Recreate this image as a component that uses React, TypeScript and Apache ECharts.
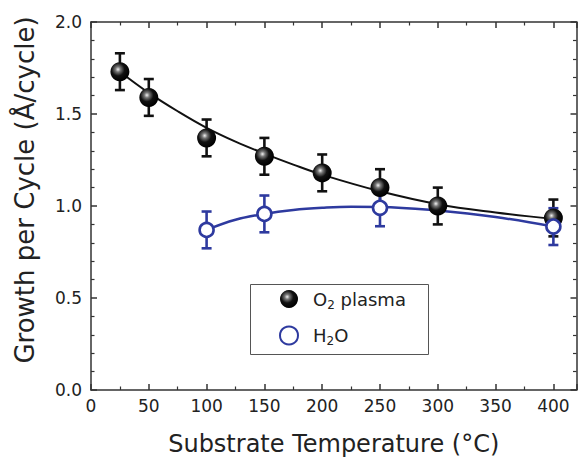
import React, { useEffect, useRef } from "react";
import * as echarts from "echarts";

// Measured data
const o2Temps = [25, 50, 100, 150, 200, 250, 300, 400];
const o2Gpc = [1.73, 1.59, 1.37, 1.27, 1.18, 1.10, 1.00, 0.935];
const o2Err = [0.1, 0.1, 0.1, 0.1, 0.1, 0.1, 0.1, 0.1];

const h2oTemps = [100, 150, 250, 400];
const h2oGpc = [0.87, 0.957, 0.99, 0.888];
const h2oErr = [0.1, 0.1, 0.1, 0.1];

// Fit curves
const o2FitT = [25, 50, 75, 100, 125, 150, 175, 200, 250, 300, 350, 400];
const o2FitG = [1.73, 1.615, 1.515, 1.425, 1.35, 1.285, 1.225, 1.17, 1.08, 1.01, 0.965, 0.93];
const h2oFitT = [100, 125, 150, 175, 200, 225, 250, 300, 350, 400];
const h2oFitG = [0.87, 0.925, 0.957, 0.978, 0.99, 0.996, 0.995, 0.975, 0.94, 0.888];

const xTicks = { min: 0, max: 420, interval: 50 };
const yTicks = { min: 0, max: 2, interval: 0.5 };

const BLUE = "#2E3A9F";
const AXIS = "#333";
const TXT = "#222";

export default function App() {
  const ref = useRef<HTMLDivElement>(null);
  useEffect(() => {
    if (!ref.current) return;
    const chart = echarts.init(ref.current, undefined, { renderer: "svg" });
    const ball = new echarts.graphic.RadialGradient(0.4, 0.38, 0.62, [
      { offset: 0, color: "#f2f2f2" },
      { offset: 0.22, color: "#777" },
      { offset: 0.55, color: "#111" },
      { offset: 1, color: "#000" },
    ]);
    const errRender = (color: string) => (params: any, api: any) => {
      const x = api.value(0), y = api.value(1), e = api.value(2);
      const t = api.coord([x, y + e]);
      const b = api.coord([x, y - e]);
      const hw = 5;
      const style = { stroke: color, lineWidth: 2.6 };
      return {
        type: "group",
        children: [
          { type: "line", shape: { x1: t[0], y1: t[1], x2: b[0], y2: b[1] }, style },
          { type: "line", shape: { x1: t[0] - hw, y1: t[1], x2: t[0] + hw, y2: t[1] }, style },
          { type: "line", shape: { x1: b[0] - hw, y1: b[1], x2: b[0] + hw, y2: b[1] }, style },
        ],
      };
    };
    const axisCommon = {
      axisLine: { show: true, onZero: false, lineStyle: { color: AXIS, width: 1.5 } },
      axisTick: { show: true, inside: true, length: 6, lineStyle: { color: AXIS, width: 1.5 } },
      minorTick: { show: true, length: 3.5, lineStyle: { color: AXIS, width: 1.2 } },
      splitLine: { show: false },
    };
    const font = "DejaVu Sans, sans-serif";
    chart.setOption({
      animation: false,
      backgroundColor: "#fff",
      grid: { left: 91, right: 1.5, top: 22, bottom: 69, outerBoundsMode: "none", containLabel: false },
      graphic: [
        {
          type: "rect",
          left: 248,
          top: 282,
          shape: { width: 178, height: 70 },
          style: { fill: "none", stroke: "#555", lineWidth: 1 },
          z: 10,
          silent: true,
        },
      ],
      xAxis: [
        {
          type: "value",
          ...xTicks,
          ...axisCommon,
          minorTick: { ...axisCommon.minorTick, splitNumber: 2 },
          axisLabel: {
            fontSize: 17, color: TXT, fontFamily: font, margin: 7,
            showMaxLabel: false,
            formatter: (v: number) => (v % 50 === 0 ? String(v) : ""),
          },
          name: "Substrate Temperature (°C)",
          nameLocation: "middle",
          nameGap: 42,
          nameTextStyle: { fontSize: 24, color: TXT, fontFamily: font },
        },
        {
          type: "value",
          position: "top",
          ...xTicks,
          ...axisCommon,
          minorTick: { ...axisCommon.minorTick, splitNumber: 2 },
          axisLabel: { show: false },
        },
      ],
      yAxis: [
        {
          type: "value",
          ...yTicks,
          ...axisCommon,
          minorTick: { ...axisCommon.minorTick, splitNumber: 5 },
          axisLabel: {
            fontSize: 17, color: TXT, fontFamily: font, margin: 9,
            formatter: (v: number) => v.toFixed(1),
          },
          name: "Growth per Cycle (Å/cycle)",
          nameLocation: "middle",
          nameGap: 53,
          nameTextStyle: { fontSize: 26, color: TXT, fontFamily: font, padding: [0, 0, 0, 32] },
        },
        {
          type: "value",
          position: "right",
          ...yTicks,
          ...axisCommon,
          minorTick: { ...axisCommon.minorTick, splitNumber: 5 },
          axisLabel: { show: false },
        },
      ],
      legend: {
        show: true,
        orient: "vertical",
        left: 279,
        top: 290,
        padding: 0,
        itemGap: 15,
        itemWidth: 18,
        itemHeight: 18,
        data: ["O2 plasma", "H2O"],
        textStyle: {
          fontFamily: font,
          fontSize: 18,
          color: TXT,
          rich: {
            f: { fontSize: 18, fontFamily: font, color: TXT, padding: [0, 0, 0, 10] },
            n: { fontSize: 18, fontFamily: font, color: TXT },
            s: { fontSize: 12, fontFamily: font, color: TXT, verticalAlign: "bottom", padding: [11, 0, 0, 0] },
          },
        },
        formatter: (name: string) =>
          name === "O2 plasma" ? "{f|O}{s|2}{n| plasma}" : "{f|H}{s|2}{n|O}",
      },
      series: [
        {
          type: "line",
          data: o2FitT.map((t, i) => [t, o2FitG[i]]),
          smooth: 0.4,
          showSymbol: false,
          lineStyle: { color: "#111", width: 2 },
          z: 1,
          silent: true,
        },
        {
          type: "line",
          data: h2oFitT.map((t, i) => [t, h2oFitG[i]]),
          smooth: 0.4,
          showSymbol: false,
          lineStyle: { color: BLUE, width: 2.5 },
          z: 1,
          silent: true,
        },
        {
          type: "custom",
          renderItem: errRender("#111"),
          data: o2Temps.map((t, i) => [t, o2Gpc[i], o2Err[i]]),
          encode: { x: 0, y: 1 },
          z: 2,
        },
        {
          type: "custom",
          renderItem: errRender(BLUE),
          data: h2oTemps.map((t, i) => [t, h2oGpc[i], h2oErr[i]]),
          encode: { x: 0, y: 1 },
          z: 2,
        },
        {
          name: "O2 plasma",
          type: "scatter",
          data: o2Temps.map((t, i) => [t, o2Gpc[i]]),
          symbol: "circle",
          symbolSize: 19,
          itemStyle: { color: ball, opacity: 1 },
          z: 3,
        },
        {
          name: "H2O",
          type: "scatter",
          data: h2oTemps.map((t, i) => [t, h2oGpc[i]]),
          symbol: "circle",
          symbolSize: 14,
          itemStyle: { color: "#fff", borderColor: BLUE, borderWidth: 2.6, opacity: 1 },
          z: 3,
        },
      ],
    });
    return () => chart.dispose();
  }, []);
  return <div ref={ref} style={{ width: 578, height: 459, position: "absolute", left: 0, top: 0 }} />;
}
